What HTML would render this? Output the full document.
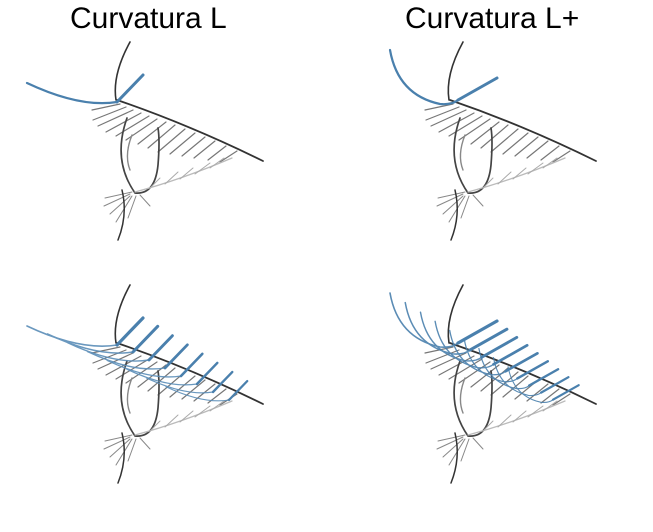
<!DOCTYPE html>
<html><head><meta charset="utf-8"><style>
html,body{margin:0;padding:0;background:#fff;width:653px;height:532px;overflow:hidden}
.t{position:absolute;top:0;font-family:"Liberation Sans",sans-serif;font-size:30px;color:#000}
</style></head><body>
<div class="t" style="left:70px;top:2px">Curvatura L</div>
<div class="t" style="left:405px;top:2px">Curvatura L+</div>
<svg width="653" height="532" viewBox="0 0 653 532" style="position:absolute;left:0;top:0">
<defs>
<g id="eye" fill="none" stroke-linecap="round">
  <path d="M130,42 Q112,75 116,100" stroke="#333" stroke-width="1.6"/>
  <path d="M117,100 Q190,125 263,161" stroke="#333" stroke-width="1.8"/>
  <g stroke="#777" stroke-width="1.2">
    <path d="M120,104 L92,110"/><path d="M126,107 L93,120"/><path d="M133,110 L98,126"/>
    <path d="M141,113 L106,132"/><path d="M149,116 L116,136"/><path d="M157,119 L126,140"/>
    <path d="M166,122 L138,144"/><path d="M175,125 L148,148"/><path d="M185,129 L158,152"/>
    <path d="M195,133 L170,154"/><path d="M205,137 L182,156"/><path d="M215,141 L194,158"/>
    <path d="M226,146 L208,160"/><path d="M237,151 L220,162"/>
  </g>
  <path d="M127,118 Q112,160 135,193 Q155,195 158,165 Q160,140 158,128" stroke="#444" stroke-width="1.7"/>
  <path d="M132,135 Q124,155 130,170" stroke="#888" stroke-width="1.4"/>
  <path d="M135,192 Q180,180 232,158" stroke="#bbb" stroke-width="1.3"/>
  <g stroke="#aaa" stroke-width="1">
    <path d="M150,188 L160,178"/><path d="M165,184 L178,172"/><path d="M180,179 L193,168"/>
    <path d="M195,174 L210,163"/><path d="M210,168 L224,158"/>
  </g>
  <g stroke="#888" stroke-width="1">
    <path d="M132,192 L105,198"/><path d="M130,194 L104,206"/><path d="M130,196 L110,214"/>
    <path d="M132,196 L116,222"/><path d="M136,196 L128,218"/><path d="M140,195 L150,206"/>
  </g>
  <path d="M122,190 Q128,215 118,240" stroke="#333" stroke-width="1.5"/>
</g>
<path id="L" d="M27,83 Q80,108 117,102 L143,75" fill="none" stroke-linecap="round"/>
<path id="LP" d="M390,50 Q398,95 440,104 Q452,105 458,100 L497,78" fill="none" stroke-linecap="round"/>
<path id="Ls" d="M117,102 L143,75" fill="none" stroke-linecap="round"/>
<path id="LPs" d="M458,100 L497,78" fill="none" stroke-linecap="round"/>
</defs>
<use href="#eye"/>
<use href="#eye" transform="translate(333,0)"/>
<use href="#eye" transform="translate(0,243)"/>
<use href="#eye" transform="translate(333,243)"/>
<use href="#L" stroke="#4a80ad" stroke-width="2.2"/>
<use href="#Ls" stroke="#4a80ad" stroke-width="3"/>
<use href="#LP" stroke="#4a80ad" stroke-width="2.2"/>
<use href="#LPs" stroke="#4a80ad" stroke-width="3"/>
<g stroke="#5a8db8" stroke-width="1.6" opacity="0.9">
  <use href="#L" transform="translate(117,345) scale(1) translate(-117,-102)"/>
  <use href="#L" transform="translate(133,352) scale(0.95) translate(-117,-102)"/>
  <use href="#L" transform="translate(149,360) scale(0.9) translate(-117,-102)"/>
  <use href="#L" transform="translate(165,368) scale(0.86) translate(-117,-102)"/>
  <use href="#L" transform="translate(181,376) scale(0.82) translate(-117,-102)"/>
  <use href="#L" transform="translate(197,384) scale(0.78) translate(-117,-102)"/>
  <use href="#L" transform="translate(213,392) scale(0.74) translate(-117,-102)"/>
  <use href="#L" transform="translate(229,400) scale(0.7) translate(-117,-102)"/>
</g>
<g stroke="#4a80ad" stroke-width="3.2">
  <use href="#Ls" transform="translate(117,345) scale(1) translate(-117,-102)"/>
  <use href="#Ls" transform="translate(133,352) scale(0.95) translate(-117,-102)"/>
  <use href="#Ls" transform="translate(149,360) scale(0.9) translate(-117,-102)"/>
  <use href="#Ls" transform="translate(165,368) scale(0.86) translate(-117,-102)"/>
  <use href="#Ls" transform="translate(181,376) scale(0.82) translate(-117,-102)"/>
  <use href="#Ls" transform="translate(197,384) scale(0.78) translate(-117,-102)"/>
  <use href="#Ls" transform="translate(213,392) scale(0.74) translate(-117,-102)"/>
  <use href="#Ls" transform="translate(229,400) scale(0.7) translate(-117,-102)"/>
</g>
<g stroke="#4a80ad" stroke-width="1.6" opacity="0.9">
  <use href="#LP" transform="translate(455,345) scale(1) translate(-455,-102)"/>
  <use href="#LP" transform="translate(467,352) scale(0.95) translate(-455,-102)"/>
  <use href="#LP" transform="translate(479,359) scale(0.9) translate(-455,-102)"/>
  <use href="#LP" transform="translate(491,366) scale(0.86) translate(-455,-102)"/>
  <use href="#LP" transform="translate(503,373) scale(0.82) translate(-455,-102)"/>
  <use href="#LP" transform="translate(515,380) scale(0.78) translate(-455,-102)"/>
  <use href="#LP" transform="translate(527,387) scale(0.74) translate(-455,-102)"/>
  <use href="#LP" transform="translate(539,394) scale(0.7) translate(-455,-102)"/>
  <use href="#LP" transform="translate(551,401) scale(0.66) translate(-455,-102)"/>
</g>
<g stroke="#4a80ad" stroke-width="3.2">
  <use href="#LPs" transform="translate(455,345) scale(1) translate(-455,-102)"/>
  <use href="#LPs" transform="translate(467,352) scale(0.95) translate(-455,-102)"/>
  <use href="#LPs" transform="translate(479,359) scale(0.9) translate(-455,-102)"/>
  <use href="#LPs" transform="translate(491,366) scale(0.86) translate(-455,-102)"/>
  <use href="#LPs" transform="translate(503,373) scale(0.82) translate(-455,-102)"/>
  <use href="#LPs" transform="translate(515,380) scale(0.78) translate(-455,-102)"/>
  <use href="#LPs" transform="translate(527,387) scale(0.74) translate(-455,-102)"/>
  <use href="#LPs" transform="translate(539,394) scale(0.7) translate(-455,-102)"/>
  <use href="#LPs" transform="translate(551,401) scale(0.66) translate(-455,-102)"/>
</g>
</svg>
</body></html>
